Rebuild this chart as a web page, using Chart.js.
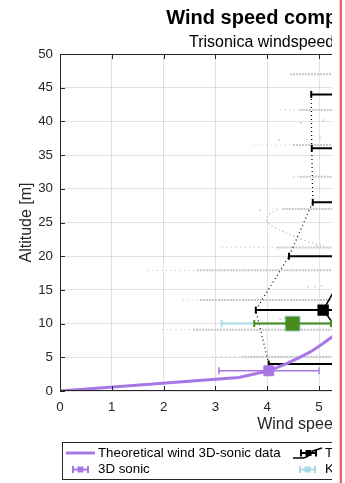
<!DOCTYPE html>
<html>
<head>
<meta charset="utf-8">
<script src="https://cdn.jsdelivr.net/npm/chart.js@4.4.1/dist/chart.umd.min.js"></script>
<style>
  html, body { margin: 0; padding: 0; background: #fff; overflow: hidden; }
  #clip { position: absolute; left: 0; top: 0; width: 332px; height: 483px; overflow: hidden; }
  #clip canvas { display: block; }
  #edge1 { position: absolute; left: 339px; top: 0; width: 1px; height: 483px; background: #f3cccc; }
  #edge2 { position: absolute; left: 340px; top: 0; width: 2px; height: 483px; background: #e26464; }
</style>
</head>
<body>
<div id="clip"><canvas id="chart" width="598" height="483"></canvas></div>
<div id="edge1"></div><div id="edge2"></div>
<script>
Chart.defaults.font.family = "'Liberation Sans', Arial, Helvetica, sans-serif";
Chart.defaults.color = '#262626';

// theoretical profile fitted to the 3D-sonic data
const theoryAlt   = [0, 2, 3, 4, 5, 6, 7, 8, 10, 12, 15, 20, 25, 30, 35, 40, 45, 50];
const theorySpeed = [0, 3.45, 4.03, 4.35, 4.63, 4.88, 5.07, 5.25, 5.5, 5.72, 5.98, 6.3, 6.55, 6.76, 6.93, 7.08, 7.21, 7.33];

// Trisonica mean and min/max per hover level
const triAlt  = [4, 12, 20, 28, 36, 44];
const triMean = [5.88, 5.08, 5.67, 5.95, 6.05, 6.15];
const triMin  = [4.03, 3.78, 4.42, 4.88, 4.86, 4.85];
const triMax  = [7.72, 6.38, 6.92, 7.02, 7.24, 7.45];

// reference instruments
const sonicAlt = [3],  sonicMean = [4.03], sonicMin = [3.07], sonicMax = [5.0];
const kestrelAlt = [10], kestrelMean = [4.49], kestrelMin = [3.12], kestrelMax = [5.86];
const cupAlt = [10], cupMean = [4.49], cupMin = [3.75], cupMax = [5.23];

// raw Trisonica samples while hovering
const rawAlt        = [47, 41.7, 36.5, 31.8, 27, 21.3, 17.9, 13.5, 9.1, 5.1];
const rawSparseFrom = [4.44, 4.25, 3.73, 4.5, 4.1, 3.13, 1.7, 2.37, 1.97, 2.93];
const rawDenseFrom  = [4.44, 4.63, 4.5, 4.63, 4.3, 4.2, 2.64, 2.7, 2.57, 3.5];
const rawTo         = [6.2, 6.0, 6.4, 6.1, 6.3, 6.8, 7.0, 6.9, 6.6, 6.0];
// samples during the climb from 27 m down to 21 m
const climbSpeed = [4.2, 4.05, 3.98, 4.0, 4.1, 4.3, 4.5, 4.7, 4.9, 5.1];
const climbAlt   = [26.9, 26.3, 25.5, 25.0, 24.4, 23.7, 23.0, 22.4, 21.9, 21.5];
// isolated samples
const strayX = [4.23, 4.65, 5.08, 4.76, 5.02, 3.86, 4.25, 4.34, 4.79, 4.92, 5.05, 4.96];
const strayY = [37.2, 39.8, 40.2, 37.3, 37.6, 26.8, 10.7, 10.8, 15.5, 15.5, 15.6, 21.5];

const xTicks = [0, 1, 2, 3, 4, 5, 6, 7, 8, 9, 10];
const yTicks = [0, 5, 10, 15, 20, 25, 30, 35, 40, 45, 50];

const legendLabels = ['Theoretical wind 3D-sonic data', 'Trisonica', 'Trisonica min/max',
                      '3D sonic', 'Kestrel', 'Cup anemometer'];

const purple = '#a877e6';
const green = '#4b8a1c';
const lightBlue = '#a8dbe8';
const rawGray = '#c6c6c6';

const pts = (xs, ys) => xs.map((v, i) => ({ x: v, y: ys[i] }));

// one line piece per level, separated by gaps
function segments(alt, from, to) {
  const out = [];
  alt.forEach((a, i) => out.push({ x: from[i], y: a }, { x: to[i], y: a }, { x: null, y: null }));
  return out;
}

function errorBars(alt, lo, hi, color, width, cap, order) {
  return {
    data: segments(alt, lo, hi),
    showLine: true,
    borderColor: color,
    borderWidth: width,
    pointStyle: 'line',
    pointRotation: 90,
    pointRadius: cap,
    pointBorderColor: color,
    pointBorderWidth: width,
    order: order
  };
}

function markers(xs, ys, color, edge, radius, order) {
  return {
    data: pts(xs, ys),
    showLine: false,
    pointStyle: 'rect',
    pointRadius: radius,
    pointBackgroundColor: color,
    pointBorderColor: edge,
    pointBorderWidth: 1,
    order: order
  };
}

const datasets = [
  { data: segments(rawAlt, rawSparseFrom, rawDenseFrom), showLine: true, borderColor: rawGray,
    borderWidth: 1.2, borderDash: [1, 3.5], pointRadius: 0, order: 9 },
  { data: segments(rawAlt, rawDenseFrom, rawTo), showLine: true, borderColor: rawGray,
    borderWidth: 2, borderDash: [2, 1], pointRadius: 0, order: 9 },
  { data: pts(climbSpeed, climbAlt), showLine: true, borderColor: rawGray, borderWidth: 1.3,
    borderDash: [1.5, 2.5], pointRadius: 0, order: 9 },
  { data: pts(strayX, strayY), showLine: false, pointRadius: 0.9, pointBackgroundColor: rawGray,
    pointBorderWidth: 0, order: 9 },

  // min/max envelopes of the Trisonica levels
  { data: pts(triMin, triAlt), showLine: true, borderColor: '#000', borderWidth: 1.2,
    borderDash: [1, 3], pointRadius: 0, order: 5 },
  { data: pts(triMax, triAlt), showLine: true, borderColor: '#000', borderWidth: 1.2,
    borderDash: [1, 3], pointRadius: 0, order: 5 },
  errorBars(triAlt, triMin, triMax, '#000', 2, 3.5, 4),
  { data: pts(triMean, triAlt), showLine: true, borderColor: '#000', borderWidth: 1.5,
    pointStyle: 'rect', pointRadius: 7, pointBackgroundColor: '#000', pointBorderColor: '#000', order: 4 },

  errorBars(kestrelAlt, kestrelMin, kestrelMax, lightBlue, 2, 3.5, 3),
  errorBars(cupAlt, cupMin, cupMax, green, 2, 3.5, 2),
  markers(cupMean, cupAlt, green, lightBlue, 10.6, 2),

  { data: pts(theorySpeed, theoryAlt), showLine: true, borderColor: purple, borderWidth: 3,
    pointRadius: 0, order: 1 },
  errorBars(sonicAlt, sonicMin, sonicMax, purple, 1.5, 3.5, 0),
  markers(sonicMean, sonicAlt, purple, purple, 7, 0)
];

// axes box with inward ticks on all four sides
const frame = {
  id: 'frame',
  afterDatasetsDraw(chart) {
    const { ctx, chartArea: a, scales: { x, y } } = chart;
    ctx.save();
    ctx.strokeStyle = '#262626';
    ctx.lineWidth = 1;
    ctx.strokeRect(a.left + 0.5, a.top + 0.5, a.width - 1, a.height - 1);
    ctx.beginPath();
    xTicks.forEach(v => {
      const px = Math.round(x.getPixelForValue(v)) + 0.5;
      ctx.moveTo(px, a.bottom); ctx.lineTo(px, a.bottom - 5);
      ctx.moveTo(px, a.top); ctx.lineTo(px, a.top + 5);
    });
    yTicks.forEach(v => {
      const py = Math.round(y.getPixelForValue(v)) + 0.5;
      ctx.moveTo(a.left, py); ctx.lineTo(a.left + 5, py);
      ctx.moveTo(a.right, py); ctx.lineTo(a.right - 5, py);
    });
    ctx.stroke();
    ctx.restore();
  }
};

function capBar(ctx, x0, x1, y, color, width, box) {
  ctx.strokeStyle = color;
  ctx.fillStyle = color;
  ctx.lineWidth = width;
  ctx.beginPath();
  ctx.moveTo(x0, y); ctx.lineTo(x1, y);
  ctx.moveTo(x0, y - 3.5); ctx.lineTo(x0, y + 3.5);
  ctx.moveTo(x1, y - 3.5); ctx.lineTo(x1, y + 3.5);
  ctx.stroke();
  if (box) ctx.fillRect((x0 + x1) / 2 - box / 2, y - box / 2, box, box);
}

// boxed legend below the axes, two rows
const legendBox = {
  id: 'legendBox',
  afterDraw(chart) {
    const { ctx, chartArea: a } = chart;
    const left = a.left + 2, top = a.bottom + 51, h = 37;
    const cols = [left + 4, left + 231, left + 420];
    const rows = [top + 11, top + 27.5];
    ctx.save();
    ctx.fillStyle = '#fff';
    ctx.fillRect(left, top, 520, h);
    ctx.strokeStyle = '#262626';
    ctx.lineWidth = 1;
    ctx.strokeRect(left + 0.5, top + 0.5, 520, h);

    legendLabels.forEach((label, i) => {
      const x = cols[i % 3], y = rows[Math.floor(i / 3)];
      if (i === 0) {
        ctx.strokeStyle = purple; ctx.lineWidth = 3;
        ctx.beginPath(); ctx.moveTo(x, y); ctx.lineTo(x + 29, y); ctx.stroke();
      } else if (i === 1) {
        ctx.strokeStyle = '#000'; ctx.lineWidth = 1.5;
        ctx.beginPath();
        ctx.moveTo(x, y + 5); ctx.lineTo(x + 10, y + 5);
        ctx.quadraticCurveTo(x + 16, y + 4, x + 20, y - 2);
        ctx.lineTo(x + 29, y - 5);
        ctx.stroke();
        capBar(ctx, x + 8, x + 23, y, '#000', 2, 6);
      } else if (i === 2) {
        ctx.strokeStyle = '#000'; ctx.lineWidth = 1.2; ctx.setLineDash([1, 3]);
        ctx.beginPath(); ctx.moveTo(x, y); ctx.lineTo(x + 29, y); ctx.stroke();
        ctx.setLineDash([]);
      } else {
        const c = [purple, lightBlue, green][i - 3];
        capBar(ctx, x + 7, x + 22, y, c, 2, 6);
      }
      ctx.fillStyle = '#000';
      ctx.font = "13.3px 'Liberation Sans', Arial, sans-serif";
      ctx.textBaseline = 'middle';
      ctx.textAlign = 'left';
      ctx.fillText(label, x + 32, y);
    });
    ctx.restore();
  }
};

const config = {
  type: 'scatter',
  data: { datasets: datasets },
  options: {
    responsive: false,
    animation: false,
    events: [],
    layout: { padding: { left: 0, right: 20, top: 0, bottom: 49 } },
    plugins: {
      legend: { display: false },
      tooltip: { enabled: false },
      title: {
        display: true,
        text: 'Wind speed comparison (drone)',
        fullSize: false,
        color: '#000',
        font: { size: 20, weight: 'bold' },
        padding: { top: 6.5, bottom: 2.7 }
      },
      subtitle: {
        display: true,
        text: 'Trisonica windspeed vs. Kestrel data',
        fullSize: false,
        color: '#000',
        font: { size: 16 },
        padding: { top: 0, bottom: 1.6 }
      }
    },
    scales: {
      x: {
        type: 'linear',
        min: 0, max: 10,
        afterBuildTicks: s => { s.ticks = xTicks.map(v => ({ value: v })); },
        afterFit: s => { s.height = 43; },
        ticks: { padding: 8, font: { size: 13.3 }, color: '#262626', maxRotation: 0 },
        grid: { color: 'rgba(0,0,0,0.11)', drawTicks: false },
        border: { display: false },
        title: { display: true, text: 'Wind speed [m/s]', font: { size: 16 }, color: '#262626',
                 padding: { top: 0, bottom: 0 } }
      },
      y: {
        type: 'linear',
        min: 0, max: 50,
        afterBuildTicks: s => { s.ticks = yTicks.map(v => ({ value: v })); },
        afterFit: s => { s.width = 60; },
        ticks: { padding: 7, font: { size: 13.3 }, color: '#262626' },
        grid: { color: 'rgba(0,0,0,0.11)', drawTicks: false },
        border: { display: false },
        title: { display: true, text: 'Altitude [m]', font: { size: 16 }, color: '#262626',
                 padding: { top: 17, bottom: 0 } }
      }
    }
  },
  plugins: [frame, legendBox]
};

const chartElement = document.getElementById('chart');
const windChart = new Chart(chartElement, config);
</script>
</body>
</html>
